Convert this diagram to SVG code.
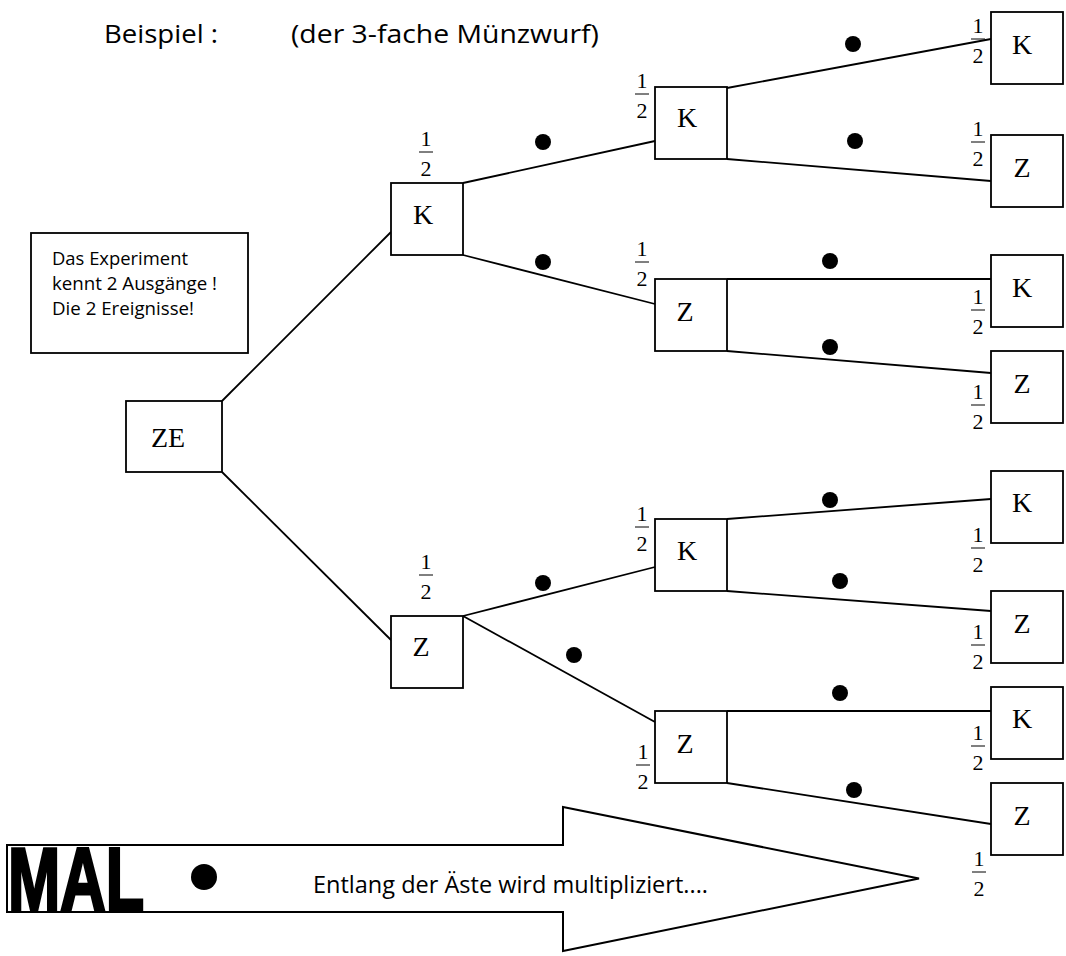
<svg xmlns="http://www.w3.org/2000/svg" xmlns:xlink="http://www.w3.org/1999/xlink" width="1066" height="956" viewBox="0 0 1066 956">
<style>
.box{fill:#fff;stroke:#000;stroke-width:1.8}
.lbl{font-family:"Liberation Serif","Times New Roman",serif;font-size:28px;text-anchor:middle;fill:#000}
.num{font-family:"Liberation Serif","Times New Roman",serif;font-size:22px;text-anchor:middle;fill:#000}
.bar{stroke:#000;stroke-width:1}
.con line{stroke:#000;stroke-width:1.8}
.dot{fill:#000}
.sans{font-family:"Open Sans","Liberation Sans",sans-serif;fill:#000}
.mal{font-family:"Liberation Sans",Arial,sans-serif;font-size:89px;font-weight:bold;fill:#000;stroke:#000;stroke-width:3}
</style>
<defs>
<g id="frac">
<text class="num" x="0" y="-6">1</text>
<line class="bar" x1="-7" y1="0" x2="7" y2="0"/>
<text class="num" x="0" y="24">2</text>
</g>
</defs>
<rect width="1066" height="956" fill="#fff"/>

<g id="title">
<text class="sans" x="104" y="43" font-size="25" textLength="114" lengthAdjust="spacingAndGlyphs">Beispiel :</text>
<text class="sans" x="291" y="43" font-size="25" textLength="308" lengthAdjust="spacingAndGlyphs">(der 3-fache Münzwurf)</text>
</g>

<g id="info">
<rect class="box" x="31" y="233" width="217" height="120"/>
<text class="sans" x="52" y="265" font-size="19" textLength="136" lengthAdjust="spacingAndGlyphs">Das Experiment</text>
<text class="sans" x="52" y="290" font-size="19" textLength="165" lengthAdjust="spacingAndGlyphs">kennt 2 Ausgänge !</text>
<text class="sans" x="52" y="315" font-size="19" textLength="142" lengthAdjust="spacingAndGlyphs">Die 2 Ereignisse!</text>
</g>

<g id="connectors" class="con">
<line x1="222" y1="401" x2="391" y2="232"/>
<line x1="222" y1="472" x2="391" y2="640"/>
<line x1="463" y1="183" x2="655" y2="141"/>
<line x1="463" y1="255" x2="655" y2="304"/>
<line x1="463" y1="616" x2="655" y2="567"/>
<line x1="463" y1="616" x2="655" y2="722"/>
<line x1="727" y1="88" x2="991" y2="39"/>
<line x1="727" y1="159" x2="991" y2="181"/>
<line x1="727" y1="279" x2="991" y2="279"/>
<line x1="727" y1="351" x2="991" y2="373"/>
<line x1="727" y1="519" x2="991" y2="499"/>
<line x1="727" y1="591" x2="991" y2="611"/>
<line x1="727" y1="711" x2="991" y2="711"/>
<line x1="727" y1="783" x2="991" y2="824"/>
</g>

<g id="dots">
<circle class="dot" cx="853" cy="44" r="8"/>
<circle class="dot" cx="543" cy="142" r="8"/>
<circle class="dot" cx="855" cy="141" r="8"/>
<circle class="dot" cx="543" cy="262" r="8"/>
<circle class="dot" cx="830" cy="261" r="8"/>
<circle class="dot" cx="830" cy="347" r="8"/>
<circle class="dot" cx="830" cy="500" r="8"/>
<circle class="dot" cx="543" cy="583" r="8"/>
<circle class="dot" cx="840" cy="581" r="8"/>
<circle class="dot" cx="574" cy="655" r="8"/>
<circle class="dot" cx="840" cy="693" r="8"/>
<circle class="dot" cx="854" cy="790" r="8"/>
</g>

<g id="n-ZE"><rect class="box" x="126" y="401" width="96" height="71"/><text class="lbl" x="168" y="447">ZE</text></g>

<g id="n-K1"><rect class="box" x="391" y="183" width="72" height="72"/><text class="lbl" x="423" y="224">K</text><use xlink:href="#frac" x="426" y="152"/></g>
<g id="n-Z1"><rect class="box" x="391" y="616" width="72" height="72"/><text class="lbl" x="421" y="656">Z</text><use xlink:href="#frac" x="426" y="575"/></g>

<g id="n-KK"><rect class="box" x="655" y="87" width="72" height="72"/><text class="lbl" x="687" y="127">K</text><use xlink:href="#frac" x="642" y="94"/></g>
<g id="n-KZ"><rect class="box" x="655" y="279" width="72" height="72"/><text class="lbl" x="685" y="321">Z</text><use xlink:href="#frac" x="642" y="262"/></g>
<g id="n-ZK"><rect class="box" x="655" y="519" width="72" height="72"/><text class="lbl" x="687" y="560">K</text><use xlink:href="#frac" x="642" y="527"/></g>
<g id="n-ZZ"><rect class="box" x="655" y="711" width="72" height="72"/><text class="lbl" x="685" y="753">Z</text><use xlink:href="#frac" x="643" y="765"/></g>

<g id="n-KKK"><rect class="box" x="991" y="12" width="72" height="72"/><text class="lbl" x="1022" y="54">K</text><use xlink:href="#frac" x="978" y="39"/></g>
<g id="n-KKZ"><rect class="box" x="991" y="135" width="72" height="72"/><text class="lbl" x="1022" y="177">Z</text><use xlink:href="#frac" x="978" y="142"/></g>
<g id="n-KZK"><rect class="box" x="991" y="255" width="72" height="72"/><text class="lbl" x="1022" y="297">K</text><use xlink:href="#frac" x="978" y="310"/></g>
<g id="n-KZZ"><rect class="box" x="991" y="351" width="72" height="72"/><text class="lbl" x="1022" y="393">Z</text><use xlink:href="#frac" x="978" y="405"/></g>
<g id="n-ZKK"><rect class="box" x="991" y="471" width="72" height="72"/><text class="lbl" x="1022" y="512">K</text><use xlink:href="#frac" x="978" y="548"/></g>
<g id="n-ZKZ"><rect class="box" x="991" y="591" width="72" height="72"/><text class="lbl" x="1022" y="633">Z</text><use xlink:href="#frac" x="978" y="645"/></g>
<g id="n-ZZK"><rect class="box" x="991" y="687" width="72" height="72"/><text class="lbl" x="1022" y="728">K</text><use xlink:href="#frac" x="978" y="746"/></g>
<g id="n-ZZZ"><rect class="box" x="991" y="783" width="72" height="72"/><text class="lbl" x="1022" y="825">Z</text><use xlink:href="#frac" x="979" y="872"/></g>

<g id="arrow">
<polygon points="7,845 563,845 563,807 919,878.5 563,951 563,912 7,912" fill="#fff" stroke="#000" stroke-width="2"/>
<text class="mal" x="8" y="910" textLength="136" lengthAdjust="spacingAndGlyphs">MAL</text>
<circle class="dot" cx="204" cy="877" r="13"/>
<text class="sans" x="313" y="893" font-size="23" textLength="395" lengthAdjust="spacingAndGlyphs">Entlang der Äste wird multipliziert....</text>
</g>
</svg>
